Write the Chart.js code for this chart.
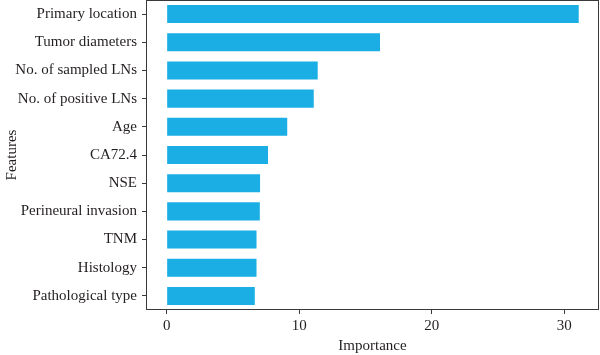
<!DOCTYPE html>
<html>
<head>
<meta charset="utf-8">
<script src="https://cdn.jsdelivr.net/npm/chart.js@4"></script>
<style>
html,body{margin:0;padding:0;background:#fff;}
#wrap{width:600px;height:355px;position:relative;}
</style>
</head>
<body>
<div id="wrap"><canvas id="c" width="600" height="355"></canvas></div>
<script>
const features = ["Primary location","Tumor diameters","No. of sampled LNs","No. of positive LNs","Age","CA72.4","NSE","Perineural invasion","TNM","Histology","Pathological type"];
const importance = [31.1, 16.1, 11.4, 11.1, 9.1, 7.65, 7.05, 7.03, 6.78, 6.78, 6.65];
const xTicks = [0, 10, 20, 30];

const TEXT = '#231f20';
const FONT = 'Liberation Serif';

const frame = {
  id: 'frame',
  afterDatasetsDraw(chart) {
    const a = chart.chartArea, ctx = chart.ctx;
    ctx.save();
    ctx.strokeStyle = '#3a3a3a';
    ctx.lineWidth = 1;
    ctx.strokeRect(Math.round(a.left) + 0.5, Math.round(a.top) + 0.5, Math.round(a.right - a.left) - 1, Math.round(a.bottom - a.top) - 1);
    ctx.restore();
  }
};

new Chart(document.getElementById('c'), {
  type: 'bar',
  data: {
    labels: features,
    datasets: [{
      data: importance,
      backgroundColor: '#1aaee4',
      borderWidth: 0,
      categoryPercentage: 1.0,
      barPercentage: 0.64
    }]
  },
  options: {
    indexAxis: 'y',
    responsive: false,
    animation: false,
    devicePixelRatio: 1,
    layout: { padding: { top: 0, right: 1, left: 0, bottom: 0 } },
    plugins: { legend: { display: false }, tooltip: { enabled: false } },
    scales: {
      x: {
        type: 'linear',
        min: -1.56,
        max: 32.63,
        afterBuildTicks(scale) { scale.ticks = xTicks.map(v => ({ value: v })); },
        afterFit(scale) { scale.height = 45; scale.paddingLeft = 0; scale.paddingRight = 0; },
        border: { display: false },
        grid: { drawOnChartArea: false, drawTicks: true, tickLength: 4, color: '#3a3a3a' },
        ticks: { color: TEXT, font: { family: FONT, size: 15 }, padding: 3 },
        title: { display: true, text: 'Importance', color: TEXT, font: { family: FONT, size: 15 }, padding: { top: 0, bottom: 0 } }
      },
      y: {
        afterFit(scale) { scale.width = 146; scale.paddingTop = 0; scale.paddingBottom = 0; },
        border: { display: false },
        grid: { drawOnChartArea: false, drawTicks: true, tickLength: 4, color: '#3a3a3a', offset: false },
        ticks: { color: TEXT, font: { family: FONT, size: 15 }, padding: 5 },
        title: { display: true, text: 'Features', color: TEXT, font: { family: FONT, size: 15 }, padding: { top: 3, bottom: 0 } }
      }
    }
  },
  plugins: [frame]
});
</script>
</body>
</html>
